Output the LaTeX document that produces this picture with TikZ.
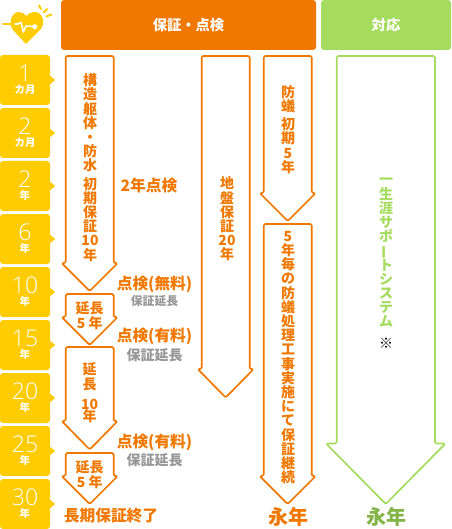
\documentclass[tikz,border=0pt]{standalone}
\usepackage{fontspec}
\setmainfont{Noto Sans CJK JP}
\newfontfamily\numfont{Open Sans Light}
\usepackage{xcolor}
\usepackage{tikz}
\usetikzlibrary{calc}
\definecolor{myorange}{RGB}{240,120,0}
\definecolor{mylime}{RGB}{165,220,95}
\definecolor{myolive}{RGB}{130,180,70}
\definecolor{myyellow}{RGB}{255,204,0}
\definecolor{mygrey}{RGB}{150,150,150}
\tikzset{
  header/.style={rectangle, rounded corners=3pt, minimum height=50pt, inner sep=0pt,
    font=\fontsize{14.3}{15}\selectfont\bfseries, text=white},
  yearbox/.style={rectangle, fill=myyellow, rounded corners=3pt, minimum width=50pt,
    minimum height=50pt, inner sep=0pt, align=center, text=white},
  orangearrow/.style={draw=myorange, line width=1.7pt, rounded corners=1.5pt, line join=round},
  limearrow/.style={draw=mylime, line width=1.7pt, rounded corners=1.5pt, line join=round},
  stack/.style={inner sep=0pt, align=center, text=myorange,
    font=\fontsize{14}{14.2}\selectfont\bfseries},
  note/.style={inner sep=0pt, text=myorange, font=\fontsize{15.7}{16}\selectfont\bfseries},
  subnote/.style={inner sep=0pt, text=mygrey, font=\fontsize{14}{14}\selectfont\bfseries},
  bigyear/.style={inner sep=0pt, font=\fontsize{20}{20}\selectfont\bfseries},
  heartline/.style={myyellow, line width=2pt, line cap=round}
}
\newcommand{\yearlabel}[2]{{\numfont\fontsize{23}{16}\selectfont #1}\\[0pt]{\fontsize{10.5}{10}\selectfont\bfseries #2}}
\newcommand{\vbar}{\smash{\rotatebox[origin=c]{90}{ー}}}

\begin{document}
\begin{tikzpicture}[x=1pt, y=-1pt]
  \useasboundingbox (0,0) rectangle (451,529);

  % Headers
  \node[header, fill=myorange, minimum width=255pt] (hdrcheck) at (188.5,25) {保証・点検};
  \node[header, fill=mylime, minimum width=130pt] (hdrcare) at (386,25) {対応};

  % Heart icon
  \fill[myyellow] (26,44) -- (13,30) .. controls (8,24) and (11,12) .. (19,12)
    .. controls (22,12) and (25,14) .. (26,16) .. controls (28,14) and (31,12) .. (35,12)
    .. controls (43,12) and (46,24) .. (40,30) -- cycle;
  \draw[heartline] (3,24) -- (14,24);
  \draw[white, line width=1.6pt, line join=round] (14.5,24) -- (18,24) -- (21,22.5) -- (23.3,32) -- (26,26) -- (33,26.5);
  \fill[white] (34.7,26.7) circle (2.5pt);
  \draw[heartline] (39,5.5) -- (41,9);
  \draw[heartline] (43.5,12.5) -- (47.3,9);
  \draw[heartline] (46.5,16.5) -- (51.3,14.5);

  % Year column
  \node[yearbox] (yr1) at (25,80) {\yearlabel{1}{カ月}};
  \node[yearbox] (yr2) at (25,133) {\yearlabel{2}{カ月}};
  \node[yearbox] (yr3) at (25,186) {\yearlabel{2}{年}};
  \node[yearbox] (yr4) at (25,239) {\yearlabel{6}{年}};
  \node[yearbox] (yr5) at (25,292) {\yearlabel{10}{年}};
  \node[yearbox] (yr6) at (25,345) {\yearlabel{15}{年}};
  \node[yearbox] (yr7) at (25,398) {\yearlabel{20}{年}};
  \node[yearbox] (yr8) at (25,451) {\yearlabel{25}{年}};
  \node[yearbox] (yr9) at (25,504) {\yearlabel{30}{年}};
  \foreach \n in {1,...,9}
    \fill[myyellow] ($(yr\n.east)+(0,-4)$) -- ($(yr\n.east)+(5,0)$) -- ($(yr\n.east)+(0,4)$) -- cycle;

  % Structure warranty arrows
  \draw[orangearrow] (65.7,56) -- (113.7,56) -- (113.7,263) -- (117.7,263) -- (89.7,291) -- (61.7,263) -- (65.7,263) -- cycle;
  \draw[orangearrow] (65.7,294) -- (113.7,294) -- (113.7,317) -- (117.7,317) -- (89.7,345) -- (61.7,317) -- (65.7,317) -- cycle;
  \draw[orangearrow] (65.7,347) -- (113.7,347) -- (113.7,421) -- (117.7,421) -- (89.7,449.5) -- (61.7,421) -- (65.7,421) -- cycle;
  \draw[orangearrow] (65.7,453) -- (113.7,453) -- (113.7,476) -- (117.7,476) -- (89.7,504) -- (61.7,476) -- (65.7,476) -- cycle;

  % Ground and termite arrows
  \draw[orangearrow] (201.7,56) -- (249.7,56) -- (249.7,369) -- (253.7,369) -- (225.7,397.5) -- (197.7,369) -- (201.7,369) -- cycle;
  \draw[orangearrow] (263.7,56) -- (311.7,56) -- (311.7,193) -- (315.7,193) -- (287.7,221) -- (259.7,193) -- (263.7,193) -- cycle;
  \draw[orangearrow] (263.7,224) -- (311.7,224) -- (311.7,476) -- (315.7,476) -- (287.7,504) -- (259.7,476) -- (263.7,476) -- cycle;

  % Support arrow
  \draw[limearrow] (336.7,56) -- (435,56) -- (435,443.5) -- (445.5,443.5) -- (385.8,504) -- (326,443.5) -- (336.7,443.5) -- cycle;

  % Arrow texts
  \node[stack] (txtframe) at (90,167.5) {構\\造\\躯\\体\\・\\防\\水\\[4pt]初\\期\\保\\証\\10\\年};
  \node[stack] (txtext1) at (89.7,315.5) {延長\\[1.3pt]5 年};
  \node[stack] (txtext2) at (89.7,392.5) {延\\[1pt]長\\[6pt]10\\[-2pt]年};
  \node[stack] (txtext3) at (89.7,474.5) {延長\\[1.3pt]5 年};
  \node[stack] (txtground) at (227,219) {地\\盤\\保\\証\\20\\年};
  \node[stack] (txttermite) at (288,129.5) {防\\蟻\\[4pt]初\\期\\5\\年};
  \node[stack] (txtrenew) at (288,357.5) {5\\年\\毎\\の\\防\\蟻\\処\\理\\工\\事\\実\\施\\に\\て\\保\\証\\継\\続};
  \node[stack, text=mylime] (txtcare) at (386,253) {一\\生\\涯\\サ\\ポ\\\vbar\\ト\\シ\\ス\\テ\\ム};
  \node[inner sep=0pt, font=\fontsize{14}{14}\selectfont] (txtmark) at (386,343) {※};

  % Side notes
  \node[note] (chk2) at (149,186) {2年点検};
  \node[note] (chk10) at (154.5,284) {点検(無料)};
  \node[subnote, font=\fontsize{11.8}{12}\selectfont\bfseries] (ext10) at (154.5,301) {保証延長};
  \node[note] (chk15) at (154.5,336) {点検(有料)};
  \node[subnote] (ext15) at (154.5,355) {保証延長};
  \node[note] (chk25) at (154.5,442) {点検(有料)};
  \node[subnote] (ext25) at (154.5,460) {保証延長};
  \node[note] (endlong) at (111,516) {長期保証終了};
  \node[bigyear, text=myorange] (foreverchk) at (288,517) {永年};
  \node[bigyear, text=myolive] (forevercare) at (386,517) {永年};
\end{tikzpicture}
\end{document}
